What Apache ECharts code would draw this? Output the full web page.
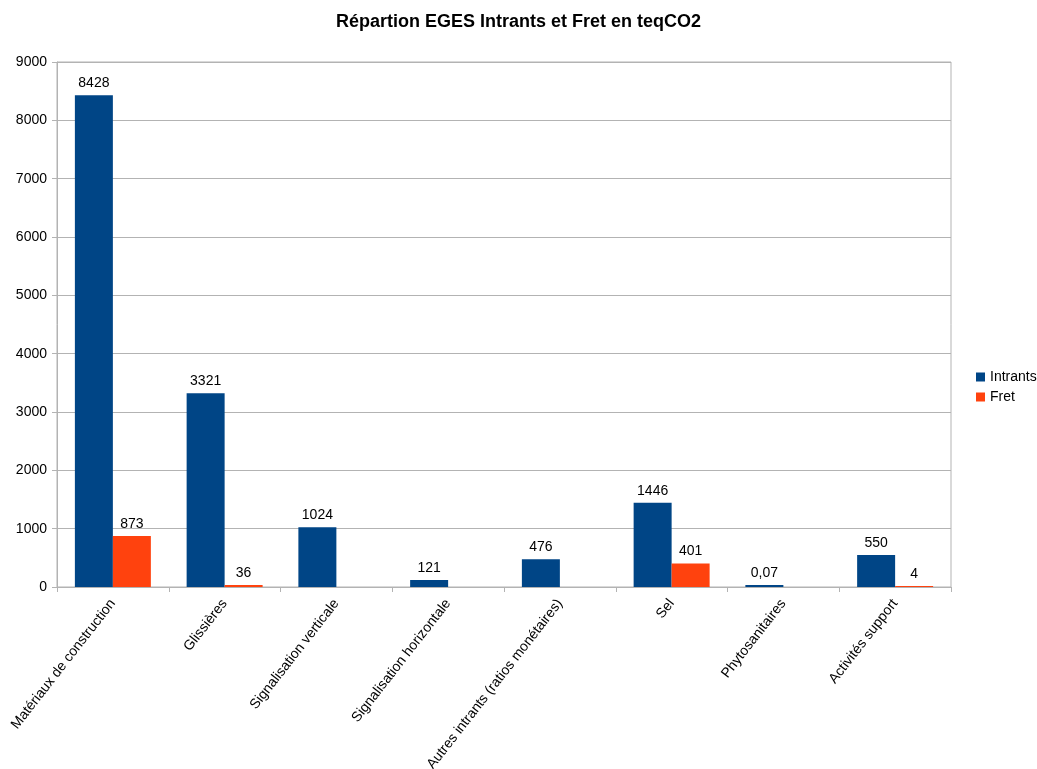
<!DOCTYPE html>
<html>
<head>
<meta charset="utf-8">
<script src="https://cdn.jsdelivr.net/npm/echarts@6/dist/echarts.min.js"></script>
<style>
  html, body { margin: 0; padding: 0; background: #fff; }
  #chart { width: 1037px; height: 769px; }
</style>
</head>
<body>
<div id="chart"></div>
<script>
// Categories and emissions (teqCO2)
const categories = [
  'Matériaux de construction',
  'Glissières',
  'Signalisation verticale',
  'Signalisation horizontale',
  'Autres intrants (ratios monétaires)',
  'Sel',
  'Phytosanitaires',
  'Activités support'
];
const intrants = [8428, 3321, 1024, 121, 476, 1446, 0.07, 550];
const fret = [873, 36, null, null, null, 401, null, 4];
const yTicks = { min: 0, max: 9000, interval: 1000 };

const fontFamily = '"Liberation Sans", Arial, sans-serif';
const fmt = v => String(v).replace('.', ',');

const chart = echarts.init(document.getElementById('chart'));
chart.setOption({
  animation: false,
  textStyle: { fontFamily },
  title: {
    text: 'Répartion EGES Intrants et Fret en teqCO2',
    left: 'center',
    top: 8,
    textStyle: { fontFamily, fontSize: 18, fontWeight: 'bold', color: '#000' }
  },
  legend: {
    orient: 'vertical',
    left: 976,
    top: 370,
    padding: 0,
    itemWidth: 9,
    itemHeight: 9,
    itemGap: 6,
    icon: 'rect',
    textStyle: { fontFamily, fontSize: 14, color: '#000' },
    data: ['Intrants', 'Fret']
  },
  grid: {
    left: 57, right: 86, top: 62, bottom: 182,
    containLabel: false,
    outerBoundsMode: 'none',
    show: true, borderColor: '#b3b3b3', borderWidth: 1
  },
  xAxis: {
    type: 'category',
    data: categories,
    axisLine: { lineStyle: { color: '#b3b3b3' } },
    axisTick: { show: true, alignWithLabel: false, length: 5, lineStyle: { color: '#b3b3b3' } },
    axisLabel: { rotate: 52, interval: 0, margin: 14, fontSize: 14, color: '#000', fontFamily }
  },
  yAxis: {
    type: 'value',
    min: yTicks.min, max: yTicks.max, interval: yTicks.interval,
    axisLine: { show: true, lineStyle: { color: '#b3b3b3' } },
    axisTick: { show: true, length: 5, lineStyle: { color: '#b3b3b3' } },
    axisLabel: { margin: 10, fontSize: 14, color: '#000', fontFamily, formatter: v => String(v) },
    splitLine: { lineStyle: { color: '#b3b3b3' } }
  },
  series: [
    {
      name: 'Intrants',
      type: 'bar',
      data: intrants,
      barGap: '0%',
      barCategoryGap: '32%',
      barMinHeight: 2,
      itemStyle: { color: '#004586' },
      label: { show: true, position: 'top', distance: 5, fontSize: 14, color: '#000', fontFamily,
               formatter: p => fmt(p.value) }
    },
    {
      name: 'Fret',
      type: 'bar',
      data: fret,
      barMinHeight: 1,
      itemStyle: { color: '#ff420e' },
      label: { show: true, position: 'top', distance: 5, fontSize: 14, color: '#000', fontFamily,
               formatter: p => fmt(p.value) }
    }
  ]
});
</script>
</body>
</html>
